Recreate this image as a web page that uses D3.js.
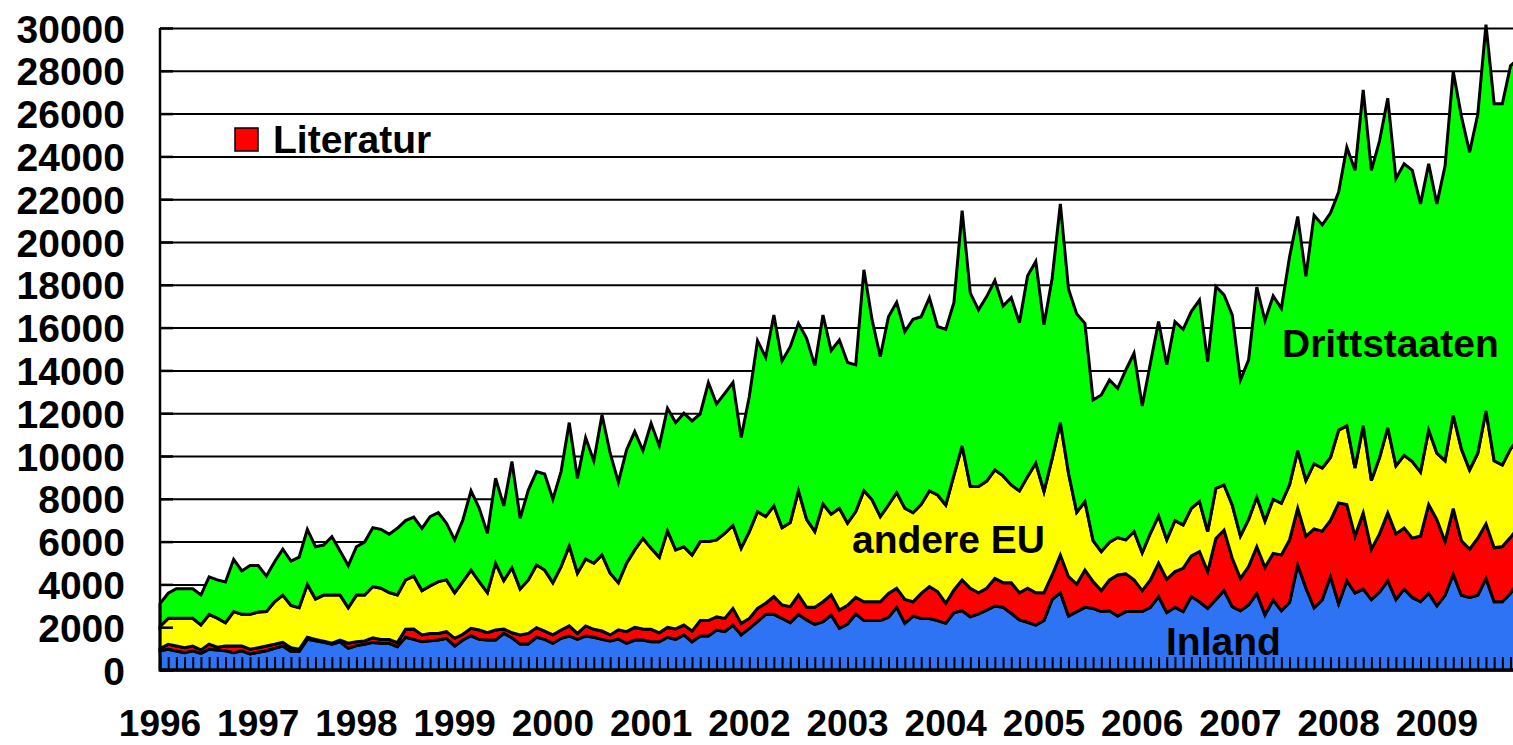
<!DOCTYPE html>
<html>
<head>
<meta charset="utf-8">
<script src="https://cdn.jsdelivr.net/npm/d3@7"></script>
<style>
  html, body { margin: 0; padding: 0; background: #fff; overflow: hidden; }
  svg text { font-family: Arial, "Liberation Sans", sans-serif; font-weight: bold; fill: #000; }
</style>
</head>
<body>
<div id="chart"></div>
<script>
// monthly values, Jan 1996 .. Nov 2009
const inland = [900,970,890,810,900,780,970,935,900,810,900,750,830,900,1010,1120,860,860,1430,1360,1290,1200,1320,1010,1140,1200,1290,1250,1250,
  1090,1530,1430,1320,1370,1400,1480,1120,1400,1600,1430,1400,1400,1710,1510,1220,1220,1530,1430,1250,1480,1590,1430,1590,1530,1430,1360,1450,
  1250,1400,1400,1320,1320,1530,1430,1640,1320,1590,1590,1870,1790,2100,1640,1950,2260,2600,2600,2410,2210,2600,2340,2130,2260,2570,1950,2150,
  2620,2310,2310,2310,2460,2930,2180,2520,2410,2410,2310,2180,2680,2770,2490,2620,2800,2990,2930,2650,2340,2230,2100,2310,3300,3610,2520,2730,
  2930,2880,2730,2770,2520,2730,2730,2730,2930,3430,2680,2930,2730,3430,3190,2880,3300,3710,2960,2770,3040,3580,2570,3270,2770,3150,4910,3830,
  2900,3290,4370,3090,4170,3590,3780,3290,3640,4170,3290,3780,3390,3190,3590,3000,3490,4470,3490,3390,3490,4270,3190,3190,3590,4140];
const literatur = [100,230,230,230,220,160,240,130,220,310,220,220,210,220,190,170,180,110,100,70,50,50,80,240,180,160,220,180,180,
  190,370,480,320,340,310,310,360,270,350,440,340,470,200,230,420,490,450,390,390,390,470,280,470,370,390,280,430,
  540,590,520,580,420,460,490,460,500,720,720,620,620,780,540,460,620,520,830,630,750,910,590,800,930,940,850,870,
  780,880,880,880,1120,890,1120,670,1170,1490,1350,940,1060,1440,1330,990,1020,1290,1150,1430,1270,1590,1510,1300,1140,1760,1840,1280,
  1740,1250,980,1440,1920,1760,1480,980,1280,1560,1560,1670,2020,1900,2340,1720,2850,2830,2260,1510,1790,2180,2230,2180,2610,2930,2650,2420,
  3690,3200,2620,4720,3560,2670,3560,2360,2720,3170,3070,2850,2770,3070,4140,4030,2510,3070,2550,2260,2670,2560,2520,2580,2610,2550];
const andereEU = [1030,1215,1295,1375,1295,1165,1385,1355,1090,1610,1480,1630,1670,1610,1990,2210,1980,1940,2470,1890,2160,2250,2100,1660,2180,2140,2390,2390,2190,
  2230,2310,2480,2070,2220,2420,2420,2130,2460,2720,2260,1870,3120,2270,3040,2150,2500,2930,2850,2440,2960,3740,2810,3130,3090,3560,2880,2200,
  3200,3620,4230,3790,3530,4510,3690,3660,3550,3690,3690,3590,3980,3880,3510,4060,4520,4050,4240,3610,3930,4870,4110,3540,4570,3770,4760,3840,
  4000,5190,4760,3980,4130,4470,4260,4160,4160,4470,4520,4590,5370,6260,4750,4960,5010,5070,4990,4570,4760,5220,6050,4730,5450,6190,4830,3360,
  3200,1920,1820,1760,1750,1590,2260,1770,2180,2210,1840,2380,2030,2230,2340,1870,2340,2110,2490,1980,2210,2310,2160,2530,2410,2570,2690,2600,
  3050,2950,2940,3400,3680,3180,4070,3200,3570,3970,3180,3400,3580,2990,3480,3100,3780,4360,4290,3700,3970,5270,4070,3810,4130,4130];
const drittstaaten = [1070,1170,1380,1380,1380,1400,1760,1790,1900,2440,2030,2280,2170,1660,1870,2150,2070,2360,2570,2440,2340,2730,2060,1970,2260,2480,2750,2750,2730,
  3110,2770,2750,2910,3240,3220,2650,2470,2880,3700,3430,2780,3970,3490,4960,3300,4200,4360,4490,3900,4440,5760,4440,5670,4780,6540,5610,4700,
  5290,5530,4100,5840,5200,5730,5950,6240,6270,5970,7430,6350,6540,6670,5170,6310,7990,7440,8920,7790,8220,7820,8460,7750,8830,7650,7860,7510,
  6860,10320,8410,7470,8800,8890,8250,9040,8770,9030,7870,8210,8070,11000,9040,8260,8620,8850,7940,8750,7860,9380,9430,7790,8420,10220,8600,9270,
  8330,6570,7320,7580,6970,7940,8330,6860,7940,9080,8180,9300,9140,9190,9420,7940,9430,8880,8880,7290,7450,9820,9370,9500,9110,10650,10940,9550,
  11610,11360,11420,11120,13020,13910,15700,14500,14800,15410,13420,13620,13610,12530,12440,11650,13770,16070,15540,14850,15840,18060,16680,16880,17900,17780];

const years = ["1996","1997","1998","1999","2000","2001","2002","2003","2004","2005","2006","2007","2008","2009"];
const yTicks = [0,2000,4000,6000,8000,10000,12000,14000,16000,18000,20000,22000,24000,26000,28000,30000];
const seriesNames = ["Inland", "Literatur", "andere EU", "Drittstaaten"];
const seriesColors = ["#2f73f5", "#ff0000", "#ffff00", "#00ff00"];

const width = 1513, height = 745;
const plotLeft = 160, plotBottom = 670, plotTop = 28;
const monthStep = 8.185;

const rows = inland.map((v, i) => ({
  month: i,
  "Inland": v,
  "Literatur": literatur[i],
  "andere EU": andereEU[i],
  "Drittstaaten": drittstaaten[i]
}));

const x = d3.scaleLinear()
  .domain([0, rows.length - 1])
  .range([plotLeft, plotLeft + (rows.length - 1) * monthStep]);

const y = d3.scaleLinear()
  .domain([0, 30000])
  .range([plotBottom, plotTop]);

const svg = d3.select("#chart")
  .append("svg")
  .attr("width", width)
  .attr("height", height)
  .attr("viewBox", [0, 0, width, height]);

// gridlines behind the areas
svg.append("g")
  .attr("transform", `translate(${plotLeft},0)`)
  .call(d3.axisLeft(y).tickValues(yTicks).tickSize(-(width - plotLeft)).tickFormat(""))
  .call(g => g.select(".domain").remove())
  .call(g => g.selectAll("line").attr("stroke", "#000").attr("stroke-width", 2));

// stacked areas
const stacked = d3.stack().keys(seriesNames)(rows);

const area = d3.area()
  .x(d => x(d.data.month))
  .y0(d => y(d[0]))
  .y1(d => y(d[1]));

svg.append("g")
  .selectAll("path")
  .data(stacked)
  .join("path")
  .attr("d", area)
  .attr("fill", (d, i) => seriesColors[i])
  .attr("stroke", "#000")
  .attr("stroke-width", 3)
  .attr("stroke-linejoin", "miter");

// monthly tick marks, pointing up into the plot
svg.append("g")
  .attr("transform", `translate(0,${plotBottom})`)
  .call(d3.axisBottom(x).tickValues(rows.map(d => d.month)).tickSize(-13).tickFormat(""))
  .call(g => g.select(".domain").remove())
  .call(g => g.selectAll("line").attr("stroke", "#000").attr("stroke-width", 2));

// y axis: inner ticks + labels
svg.append("g")
  .attr("transform", `translate(${plotLeft},0)`)
  .call(d3.axisLeft(y).tickValues(yTicks).tickSize(-13).tickPadding(35).tickFormat(d3.format("d")))
  .call(g => g.select(".domain").remove())
  .call(g => g.selectAll("line").attr("stroke", "#000").attr("stroke-width", 2.5))
  .call(g => g.selectAll("text")
    .attr("dy", "0.36em")
    .style("font-size", "39px")
    .style("font-family", "Arial, 'Liberation Sans', sans-serif")
    .style("font-weight", "bold")
    .attr("fill", "#000"));

// axis lines
svg.append("line")
  .attr("x1", plotLeft).attr("x2", plotLeft)
  .attr("y1", plotTop).attr("y2", plotBottom + 1)
  .attr("stroke", "#000").attr("stroke-width", 2.5);
svg.append("line")
  .attr("x1", plotLeft - 1).attr("x2", width)
  .attr("y1", plotBottom).attr("y2", plotBottom)
  .attr("stroke", "#000").attr("stroke-width", 3);

// year labels under each January
svg.append("g")
  .selectAll("text")
  .data(years)
  .join("text")
  .attr("x", (d, i) => x(i * 12))
  .attr("y", 736)
  .attr("text-anchor", "middle")
  .style("font-size", "37px")
  .text(d => d);

// series labels inside the chart
const labels = [
  { text: "Drittstaaten", x: 1282, y: 357 },
  { text: "andere EU", x: 852, y: 553 },
  { text: "Inland", x: 1166, y: 655 }
];
svg.append("g")
  .selectAll("text")
  .data(labels)
  .join("text")
  .attr("x", d => d.x)
  .attr("y", d => d.y)
  .style("font-size", "39px")
  .text(d => d.text);

// legend entry
svg.append("rect")
  .attr("x", 235).attr("y", 128)
  .attr("width", 23).attr("height", 23)
  .attr("fill", seriesColors[1])
  .attr("stroke", "#000").attr("stroke-width", 1.5);
svg.append("text")
  .attr("x", 273).attr("y", 153)
  .style("font-size", "39px")
  .text(seriesNames[1]);
</script>
</body>
</html>
